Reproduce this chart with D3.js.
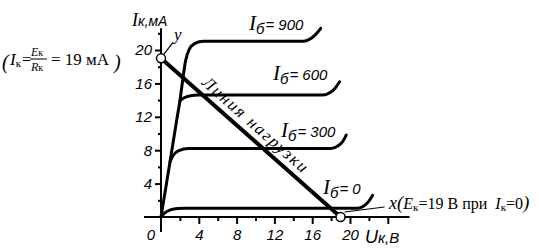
<!DOCTYPE html>
<html><head><meta charset="utf-8">
<script src="https://cdn.jsdelivr.net/npm/d3@7"></script>
<style>html,body{margin:0;padding:0;background:#fff;} svg{display:block}</style>
</head><body>
<svg id="c" width="539" height="251"></svg>
<script>
// ---- data (U in V, I in mA) ----
const curveIb0   = [[0,0],[0.4,0.5],[1,0.85],[1.8,1.02],[2.5,1.05],[20.8,1.05],[21.5,1.35],[22.0,1.9],[22.4,2.6]];
const curveIb300 = [[0.95,6.6],[1.3,7.4],[1.9,7.95],[2.9,8.2],[18.0,8.2],[18.7,8.5],[19.2,9.0],[19.6,9.8]];
const curveIb600 = [[2.0,13.9],[2.4,14.25],[3.0,14.5],[4.0,14.6],[17.1,14.6],[17.9,14.9],[18.4,15.4],[18.9,16.2]];
const curveIb900 = [[0,0],[0.95,6.6],[1.66,11.6],[2.0,13.9],[2.25,16.0],[2.6,18.7],[3.0,20.1],[3.6,20.8],[4.5,21.05],[15.1,21.05],[15.9,21.4],[16.4,21.9],[16.9,22.6]];
const ibValues = ["0","300","600","900"];
const loadLine = [[0,19],[19,0]];
const Ek = 19;        // V
const IkMax = 19;     // mA
const xMajorTicks = [4,8,12,16,20,24];
const xMinorTicks = [2,6,10,14,18,22];
const yMajorTicks = [4,8,12,16,20];
const yMinorTicks = [2,6,10,14,18,22];

const SERIF = "'Liberation Serif','Times New Roman',serif";
const SANS  = "'Liberation Sans',Arial,sans-serif";

const svg = d3.select("#c");
const x = d3.scaleLinear().domain([0,24]).range([161, 161+24*9.45]);
const y = d3.scaleLinear().domain([0,20]).range([217, 50]);

// axes lines
svg.append("line").attr("x1", x(-1.8)).attr("x2", x(26.3)).attr("y1", y(0)).attr("y2", y(0))
  .attr("stroke","#000").attr("stroke-width",2);
svg.append("line").attr("x1", x(0)).attr("x2", x(0)).attr("y1", y(-1.8)).attr("y2", y(22.6))
  .attr("stroke","#000").attr("stroke-width",2);

function styleAxis(g){
  g.select(".domain").remove();
  g.selectAll(".tick line").attr("stroke","#000").attr("stroke-width",2);
  g.selectAll(".tick text").attr("fill","#000").style("font-family",SANS)
    .style("font-style","italic").style("font-size","15px");
}
svg.append("g").attr("transform",`translate(0,${y(0)})`)
  .call(d3.axisBottom(x).tickValues(xMajorTicks).tickSize(7).tickPadding(5).tickFormat(d=>d===24?"":d))
  .call(styleAxis);
svg.append("g").attr("transform",`translate(0,${y(0)})`)
  .call(d3.axisBottom(x).tickValues(xMinorTicks).tickSize(4).tickFormat(""))
  .call(styleAxis);
svg.append("g").attr("transform",`translate(${x(0)},0)`)
  .call(d3.axisLeft(y).tickValues(yMajorTicks).tickSize(6).tickPadding(3))
  .call(styleAxis);
svg.append("g").attr("transform",`translate(${x(0)},0)`)
  .call(d3.axisLeft(y).tickValues(yMinorTicks).tickSize(3).tickFormat(""))
  .call(styleAxis);

svg.append("text").attr("x", x(0)-10).attr("y", y(0)+23).attr("text-anchor","middle")
  .style("font-family",SANS).style("font-style","italic").style("font-size","15px").text("0");

// curves
const line = d3.line().x(d=>x(d[0])).y(d=>y(d[1])).curve(d3.curveMonotoneX);
[curveIb0, curveIb300, curveIb600, curveIb900].forEach(c=>{
  svg.append("path").attr("d", line(c)).attr("fill","none").attr("stroke","#000")
    .attr("stroke-width",3).attr("stroke-linecap","round").attr("stroke-linejoin","round");
});

// load line
svg.append("path").attr("d", d3.line().x(d=>x(d[0])).y(d=>y(d[1]))(loadLine))
  .attr("fill","none").attr("stroke","#000").attr("stroke-width",4);

// leader lines
svg.append("line").attr("x1", x(0)+2).attr("y1", y(IkMax)-3).attr("x2", x(0)+12).attr("y2", y(IkMax)-16)
  .attr("stroke","#000").attr("stroke-width",1.2);
svg.append("line").attr("x1", x(Ek)+4).attr("y1", y(0)-5).attr("x2", x(Ek)+44).attr("y2", y(0)-10)
  .attr("stroke","#000").attr("stroke-width",1.2);

// circles
[[0,IkMax],[Ek,0]].forEach(p=>{
  svg.append("circle").attr("cx",x(p[0])).attr("cy",y(p[1])).attr("r",4.5)
    .attr("fill","#fff").attr("stroke","#000").attr("stroke-width",1.5);
});

// axis titles
const yt = svg.append("text").attr("x",132).attr("y",26).attr("fill","#000");
yt.append("tspan").style("font-family",SERIF).style("font-style","italic").style("font-size","18px").text("I");
yt.append("tspan").style("font-family",SANS).style("font-style","italic").style("font-size","14px").text("к,мА");

const xt = svg.append("text").attr("x",365).attr("y",243).attr("fill","#000");
xt.append("tspan").style("font-family",SANS).style("font-style","italic").style("font-size","18px").text("U");
xt.append("tspan").style("font-family",SANS).style("font-style","italic").style("font-size","15px").text("к,В");

// curve labels
const labelPos = [[323,193.5],[281,136.5],[273,80],[249,30]];
ibValues.forEach((v,i)=>{
  const t = svg.append("text").attr("x",labelPos[i][0]).attr("y",labelPos[i][1]).attr("fill","#000");
  t.append("tspan").style("font-family",SERIF).style("font-style","italic").style("font-size","21px").text("I");
  t.append("tspan").attr("dy",4).style("font-family",SANS).style("font-style","italic").style("font-size","15px").text("б");
  t.append("tspan").attr("dy",-4).attr("dx",1).style("font-family",SANS).style("font-style","italic").style("font-size","15px").text("= " + v);
});

// load line label
svg.append("text").attr("transform","translate(201,84) rotate(41.5)")
  .attr("textLength",135).attr("lengthAdjust","spacing")
  .style("font-family",SERIF).style("font-style","italic").style("font-size","17px")
  .text("Линия нагрузки");

// y label
svg.append("text").attr("x",174).attr("y",40)
  .style("font-family",SERIF).style("font-style","italic").style("font-size","17px").text("y");

// left annotation (Iк = Eк/Rк = 19 мА)
const la = svg.append("g").style("font-family",SERIF);
la.append("text").attr("x",2).attr("y",69).style("font-style","italic").style("font-size","20px").text("(");
const l1 = la.append("text").attr("x",10).attr("y",65);
l1.append("tspan").style("font-style","italic").style("font-size","17px").text("I");
l1.append("tspan").attr("dy",2).style("font-size","11px").text("к");
l1.append("tspan").attr("dy",-2).attr("dx",1).style("font-size","16px").text("=");
const num = la.append("text").attr("x",31).attr("y",56);
num.append("tspan").style("font-style","italic").style("font-size","12px").text("E");
num.append("tspan").style("font-size","10px").text("к");
la.append("line").attr("x1",30).attr("x2",47).attr("y1",59).attr("y2",59).attr("stroke","#000").attr("stroke-width",1);
const den = la.append("text").attr("x",31).attr("y",70.5);
den.append("tspan").style("font-style","italic").style("font-size","12px").text("R");
den.append("tspan").style("font-size","10px").text("к");
la.append("text").attr("x",51).attr("y",65).style("font-size","17px").text("= 19 мА");
la.append("text").attr("x",114).attr("y",69).style("font-style","italic").style("font-size","20px").text(")");

// x annotation
const xa = svg.append("text").attr("x",389).attr("y",209).style("font-family",SERIF).style("font-size","16px");
xa.append("tspan").style("font-style","italic").style("font-size","18px").text("x");
xa.append("tspan").style("font-style","italic").style("font-size","19px").text("(");
xa.append("tspan").style("font-style","italic").text("E");
xa.append("tspan").attr("dy",2).style("font-size","11px").text("к");
xa.append("tspan").attr("dy",-2).text("=19 В при ");
xa.append("tspan").attr("dx",4).style("font-style","italic").text("I");
xa.append("tspan").attr("dy",2).style("font-size","11px").text("к");
xa.append("tspan").attr("dy",-2).text("=0");
xa.append("tspan").style("font-style","italic").style("font-size","19px").text(")");
</script>
</body></html>
